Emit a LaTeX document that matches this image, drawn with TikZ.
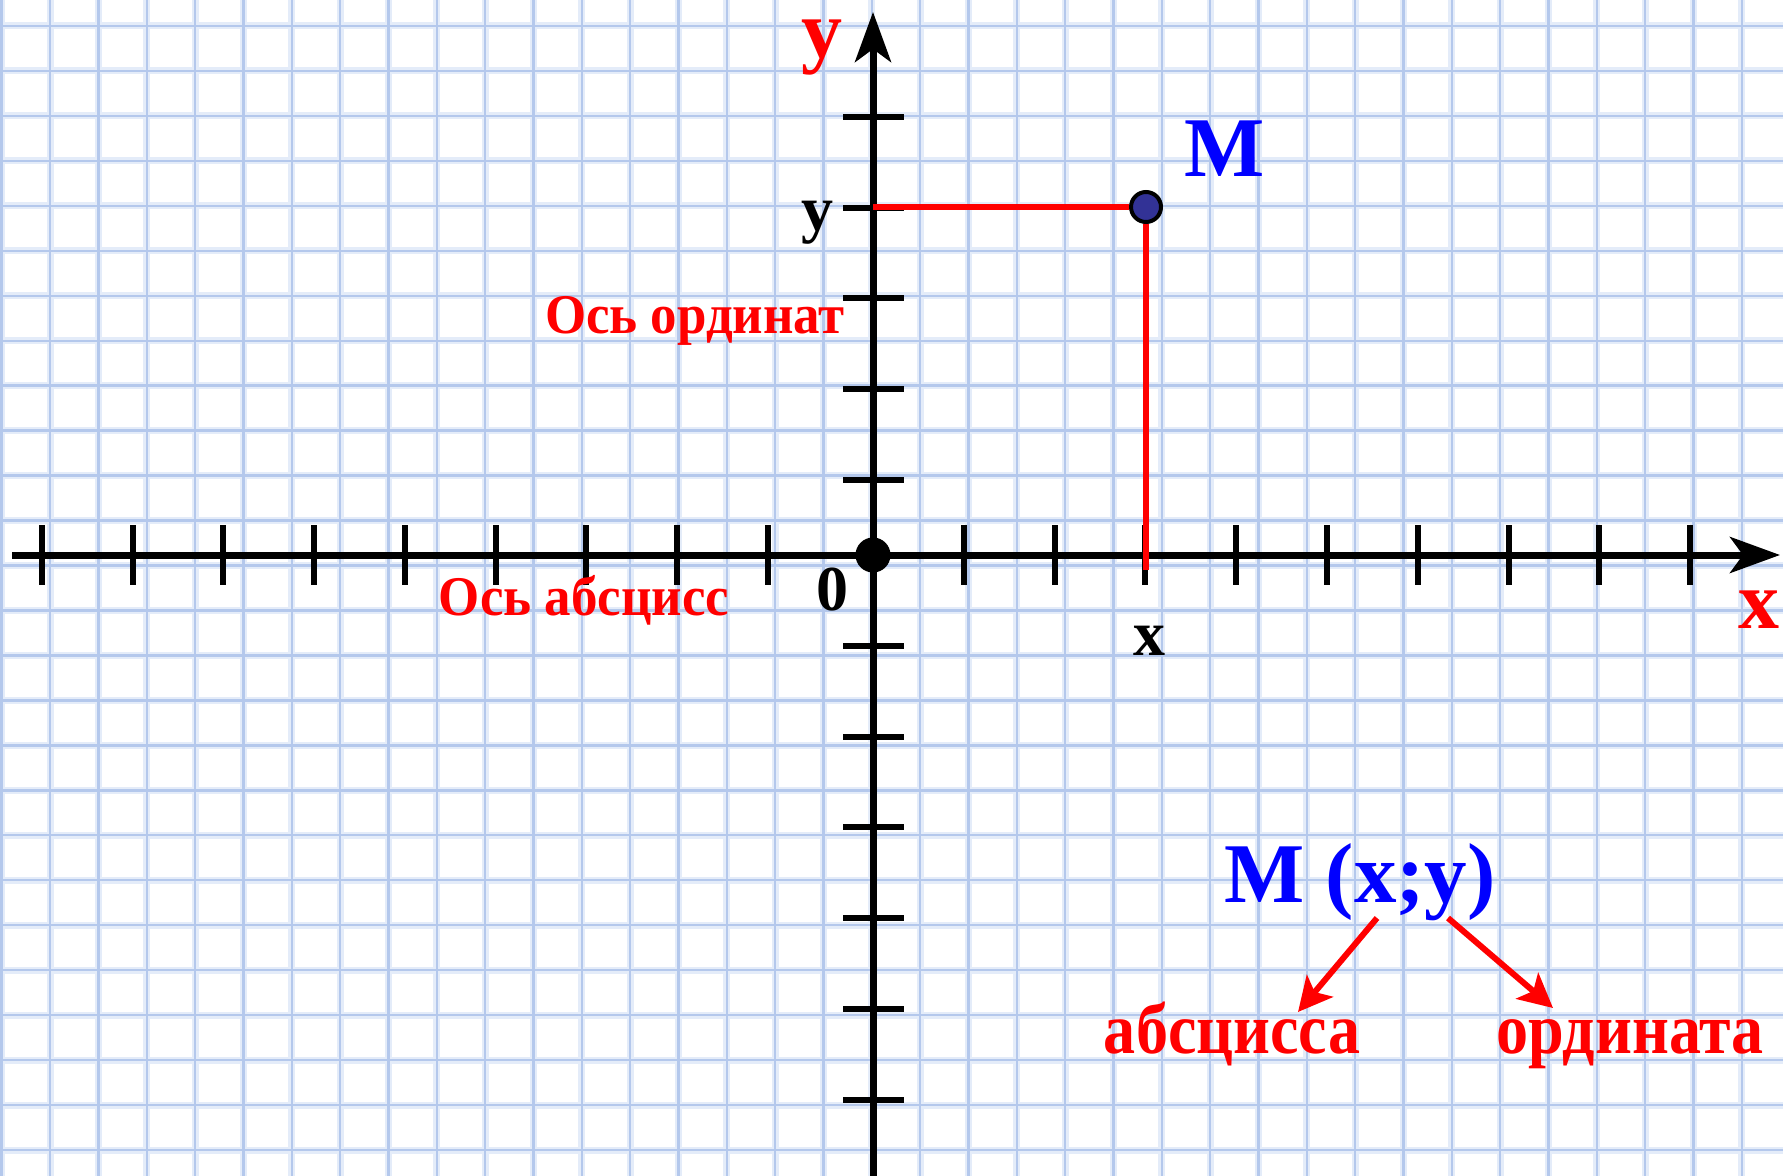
\documentclass[tikz,border=0pt]{standalone}
\usepackage{fontspec}
\usepackage{graphicx}
\setmainfont{Liberation Serif}
\usetikzlibrary{arrows.meta}
\definecolor{gridA}{RGB}{228,236,249}
\definecolor{gridB}{RGB}{180,200,236}
\definecolor{mfill}{RGB}{50,50,150}
\definecolor{txtblue}{RGB}{0,0,255}
\definecolor{pure red}{RGB}{255,0,0}
\tikzset{
  gridwide/.style={line width=3.5pt, gridA},
  gridthin/.style={line width=1.2pt, gridB},
  axisline/.style={line width=3.5pt, black},
  tickmark/.style={line width=3pt, black},
  redline/.style={line width=3pt, pure red},
  redarrow/.style={line width=3pt, pure red, -{Stealth[length=17pt, width=17pt, inset=4pt]}},
  lbl/.style={inner sep=0pt, anchor=base},
  fsA/.style={font=\bfseries\fontsize{41}{42}\selectfont},
  fsM/.style={font=\bfseries\fontsize{42.5}{44}\selectfont},
  fsS/.style={font=\bfseries\fontsize{32}{34}\selectfont},
  fsO/.style={font=\bfseries\fontsize{28}{30}\selectfont},
  fsW/.style={font=\bfseries\fontsize{36}{38}\selectfont}
}
\newcommand{\narrowA}[1]{\scalebox{0.945}[1]{#1}}
\newcommand{\narrowB}[1]{\scalebox{0.89}[1]{#1}}
\begin{document}
\begin{tikzpicture}[x=0.5pt,y=-0.5pt]
\useasboundingbox (0,0) rectangle (1783,1176);
\fill[white] (0,0) rectangle (1783,1176);
% grid paper
\foreach \k in {0,...,36} { \draw[gridwide] ({1.7+48.34*\k},0) -- ({1.7+48.34*\k},1176); }
\foreach \k in {0,...,25} { \draw[gridwide] (0,{26+44.96*\k}) -- (1783,{26+44.96*\k}); }
\foreach \k in {0,...,36} { \draw[gridthin] ({1.7+48.34*\k},0) -- ({1.7+48.34*\k},1176); }
\foreach \k in {0,...,25} { \draw[gridthin] (0,{26+44.96*\k}) -- (1783,{26+44.96*\k}); }
% axes
\coordinate (xstart) at (12,555);
\coordinate (xend) at (1780,555);
\coordinate (ystart) at (873,1176);
\coordinate (yend) at (873,12);
\draw[axisline, -{Stealth[length=25pt, width=18pt, inset=6.5pt]}] (xstart) -- (xend);
\draw[axisline, -{Stealth[length=25pt, width=18pt, inset=6.5pt]}] (ystart) -- (yend);
% ticks
\foreach \t in {0,...,8} { \draw[tickmark] ({42+90.7*\t},525) -- ({42+90.7*\t},585); }
\foreach \t in {1,...,9} { \draw[tickmark] ({873+90.8*\t},525) -- ({873+90.8*\t},585); }
\foreach \t in {0,...,4} { \draw[tickmark] (843,{480-90.8*\t}) -- (904,{480-90.8*\t}); }
\foreach \t in {1,...,6} { \draw[tickmark] (843,{555+90.8*\t}) -- (904,{555+90.8*\t}); }
% origin
\node[circle, fill=black, inner sep=0pt, minimum size=17.5pt] (O) at (873,555) {};
% point M and its projections
\coordinate (yM) at (873,207);
\coordinate (xM) at (1146,570);
\node[circle, draw=black, line width=2pt, fill=mfill, inner sep=0pt, minimum size=15pt] (Mpt) at (1146,207) {};
\draw[redline] (yM) -- (Mpt.west);
\draw[redline] (Mpt.south) -- (xM);
% labels
\node[lbl, fsA, pure red] (ylab) at (822,58) {y};
\node[lbl, fsA, pure red] (xlab) at (1759,628) {x};
\node[lbl, fsM, txtblue] (Mlab) at (1225,177) {M};
\node[lbl, fsS] (ytick) at (817,231) {y};
\node[lbl, fsS] (zero) at (832,610) {0};
\node[lbl, fsS] (xtick) at (1149,655) {x};
\node[lbl, fsO, pure red] (oy) at (695,334) {\narrowA{Ось ординат}};
\node[lbl, fsO, pure red] (ox) at (584,615) {\narrowA{Ось абсцисс}};
\node[lbl, fsM, txtblue] (mxy) at (1360,902) {M (x;y)};
\node[lbl, fsW, pure red] (abs) at (1232,1053) {\narrowB{абсцисса}};
\node[lbl, fsW, pure red] (ord) at (1630,1053) {\narrowB{ордината}};
% arrows from coordinates to their names
\coordinate (fromx) at (1377,918);
\coordinate (tox) at (1298,1012);
\coordinate (fromy) at (1448,918);
\coordinate (toy) at (1553,1008);
\draw[redarrow] (fromx) -- (tox);
\draw[redarrow] (fromy) -- (toy);
\end{tikzpicture}
\end{document}
